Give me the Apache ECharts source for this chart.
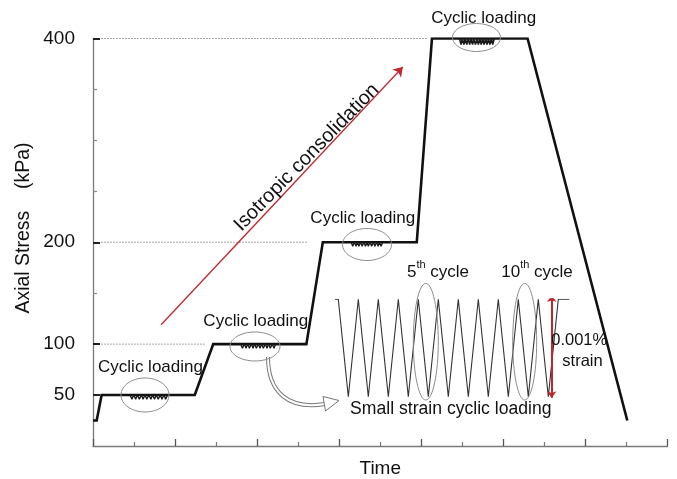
<!DOCTYPE html>
<html>
<head>
<meta charset="utf-8">
<script src="https://cdn.jsdelivr.net/npm/echarts@6/dist/echarts.min.js"></script>
<style>
  html, body { margin: 0; padding: 0; background: #fff; }
  #chart { width: 677px; height: 479px; }
</style>
</head>
<body>
<div id="chart"></div>
<script>
// Stress path: axial stress against time
const stageTime   = [0, 0.09, 0.21, 2.48, 2.93, 5.2, 5.6, 7.89, 8.26, 10.59, 13.02];
const stageStress = [25, 25, 50, 50, 100, 100, 200, 200, 400, 400, 25];

// Labelled and unlabelled stress ticks
const stressLabels = [50, 100, 200, 400];
const stressMinorTicks = [150, 250, 300, 350];

// Small cyclic loading on each plateau
const cyc50Time    = [0.90, 0.95, 0.99, 1.04, 1.08, 1.13, 1.18, 1.22, 1.27, 1.31, 1.36, 1.41, 1.45, 1.50, 1.54, 1.59, 1.64, 1.68, 1.73, 1.77, 1.82];
const cyc50Stress  = [50, 46, 50, 46, 50, 46, 50, 46, 50, 46, 50, 46, 50, 46, 50, 46, 50, 46, 50, 46, 50];
const cyc100Time   = [3.60, 3.64, 3.69, 3.73, 3.77, 3.81, 3.86, 3.90, 3.94, 3.98, 4.03, 4.07, 4.11, 4.15, 4.20, 4.24, 4.28, 4.32, 4.37, 4.41, 4.45];
const cyc100Stress = [100, 96, 100, 96, 100, 96, 100, 96, 100, 96, 100, 96, 100, 96, 100, 96, 100, 96, 100, 96, 100];
const cyc200Time   = [6.29, 6.33, 6.37, 6.41, 6.44, 6.48, 6.52, 6.56, 6.60, 6.64, 6.68, 6.71, 6.75, 6.79, 6.83, 6.87, 6.91, 6.95, 6.98, 7.02, 7.06];
const cyc200Stress = [200, 196, 200, 196, 200, 196, 200, 196, 200, 196, 200, 196, 200, 196, 200, 196, 200, 196, 200, 196, 200];
const cyc400Time   = [8.93, 8.97, 9.00, 9.04, 9.07, 9.11, 9.14, 9.18, 9.21, 9.25, 9.28, 9.32, 9.36, 9.39, 9.43, 9.46, 9.50, 9.53, 9.57, 9.60, 9.64, 9.67, 9.71, 9.74, 9.78];
const cyc400Stress = [400, 394, 400, 394, 400, 394, 400, 394, 400, 394, 400, 394, 400, 394, 400, 394, 400, 394, 400, 394, 400, 394, 400, 394, 400];

// Reference levels (dotted) and where they stop
const refLevels = [100, 200, 400];
const refStart  = 0.2;
const refEnd    = [2.72, 5.23, 8.15];

// Isotropic consolidation arrow
const consolidationTime   = [1.66, 7.55];
const consolidationStress = [119, 372];

// Inset: small strain cyclic loading, ten cycles
const cycleTime   = [-0.17, 0, 0.5, 1, 1.5, 2, 2.5, 3, 3.5, 4, 4.5, 5, 5.5, 6, 6.5, 7, 7.5, 8, 8.5, 9, 9.5, 10, 10.5, 11, 11.55];
const strainLevel = [1, 1, -1, 1, -1, 1, -1, 1, -1, 1, -1, 1, -1, 1, -1, 1, -1, 1, -1, 1, -1, 1, -1, 1, 1];
const strainArrowCycle = 10.67;
const strainArrowRange = [-1.03, 1.09];

const FONT = "'Liberation Sans', Arial, Helvetica, sans-serif";
const zip = (a, b) => a.map((v, i) => [v, b[i]]);

const chart = echarts.init(document.getElementById('chart'), null, { renderer: 'canvas' });

const wiggle = (t, s, w) => ({
  type: 'line', xAxisIndex: 0, yAxisIndex: 0, data: zip(t, s),
  symbol: 'none', silent: true, z: 4,
  lineStyle: { color: '#1a1a1a', width: w }
});

const refSeries = refLevels.map((lv, i) => ({
  type: 'line', xAxisIndex: 0, yAxisIndex: 0,
  data: [[refStart, lv], [refEnd[i], lv]],
  symbol: 'none', silent: true, z: 1,
  lineStyle: { color: '#8a8a8a', width: 1, type: [1.5, 1.5] }
}));

const option = {
  animation: false,
  backgroundColor: '#fff',
  grid: [
    { left: 93, top: 38.5, right: 9.5, bottom: 33, containLabel: false, outerBoundsMode: 'none' },
    { left: 334.3, top: 299.3, width: 236, height: 97.4, containLabel: false, outerBoundsMode: 'none' }
  ],
  xAxis: [
    {
      gridIndex: 0, type: 'value', min: 0, max: 14, interval: 2,
      name: 'Time', nameLocation: 'middle', nameGap: 13,
      nameTextStyle: { fontFamily: FONT, fontSize: 19, color: '#111' },
      axisLine: { show: true, lineStyle: { color: '#7a7a7a', width: 1.3 } },
      axisTick: { show: true, inside: true, length: 7, lineStyle: { color: '#555', width: 1.3 } },
      minorTick: { show: true, splitNumber: 2, length: 4, lineStyle: { color: '#777', width: 1.2 } },
      axisLabel: { show: false },
      splitLine: { show: false }, minorSplitLine: { show: false }
    },
    {
      gridIndex: 1, type: 'value', min: -0.2, max: 11.6, show: false
    }
  ],
  yAxis: [
    {
      gridIndex: 0, type: 'value', min: 0, max: 400, interval: 50,
      axisLine: { show: true, lineStyle: { color: '#7a7a7a', width: 1.3 } },
      axisTick: { show: true, inside: true, length: 7, customValues: stressLabels, lineStyle: { color: '#222', width: 2 } },
      axisLabel: { show: true, customValues: stressLabels, margin: 18, fontFamily: FONT, fontSize: 19, color: '#111' },
      splitLine: { show: false }
    },
    {
      gridIndex: 0, type: 'value', min: 0, max: 400, interval: 50, position: 'left',
      axisLine: { show: false },
      axisTick: { show: true, inside: true, length: 4, customValues: stressMinorTicks, lineStyle: { color: '#888', width: 1.2 } },
      axisLabel: { show: false },
      splitLine: { show: false }
    },
    {
      gridIndex: 1, type: 'value', min: -1, max: 1, show: false
    }
  ],
  series: [
    ...refSeries,
    {
      type: 'line', xAxisIndex: 0, yAxisIndex: 0,
      data: zip(stageTime, stageStress),
      symbol: 'none', silent: true, z: 3,
      lineStyle: { color: '#111', width: 2.6, join: 'miter' }
    },
    wiggle(cyc50Time, cyc50Stress, 1.3),
    wiggle(cyc100Time, cyc100Stress, 1.3),
    wiggle(cyc200Time, cyc200Stress, 1.3),
    wiggle(cyc400Time, cyc400Stress, 1.6),
    {
      type: 'lines', coordinateSystem: 'cartesian2d', xAxisIndex: 0, yAxisIndex: 0,
      data: [{ coords: zip(consolidationTime, consolidationStress) }],
      symbol: ['none', 'arrow'], symbolSize: 9, silent: true, z: 2,
      lineStyle: { color: '#c0272d', width: 1.3, opacity: 1 }
    },
    {
      type: 'line', xAxisIndex: 1, yAxisIndex: 2,
      data: zip(cycleTime, strainLevel),
      symbol: 'none', silent: true, z: 3,
      lineStyle: { color: '#333', width: 1.1 }
    },
    {
      type: 'lines', coordinateSystem: 'cartesian2d', xAxisIndex: 1, yAxisIndex: 2,
      data: [{ coords: [[strainArrowCycle, strainArrowRange[0]], [strainArrowCycle, strainArrowRange[1]]] }],
      symbol: ['arrow', 'arrow'], symbolSize: 7, silent: true, z: 4,
      lineStyle: { color: '#c0272d', width: 2, opacity: 1 }
    }
  ]
};

chart.setOption(option);

// Annotations: labels, ellipses and the curved pointer
const txt = (x, y, text, size, extra) => Object.assign({
  type: 'text', x: x, y: y, silent: true, z: 10,
  style: {
    text: text, fill: '#111', font: size + 'px ' + FONT,
    fontSize: size, fontFamily: FONT,
    align: 'center', verticalAlign: 'middle',
    textAlign: 'center', textVerticalAlign: 'middle'
  }
}, extra || {});

const ell = (cx, cy, rx, ry) => ({
  type: 'ellipse', silent: true, z: 6,
  shape: { cx: cx, cy: cy, rx: rx, ry: ry },
  style: { fill: 'none', stroke: '#8c8c8c', lineWidth: 1 }
});

const supRich = {
  n: { fontSize: 17, fontFamily: FONT, fill: '#111', lineHeight: 22, verticalAlign: 'bottom' },
  s: { fontSize: 11, fontFamily: FONT, fill: '#111', lineHeight: 22, verticalAlign: 'top', padding: [0, 0, 0, 0] }
};

const supText = (x, y, base) => ({
  type: 'text', x: x, y: y, silent: true, z: 10,
  style: {
    text: '{n|' + base + '}{s|th}{n| cycle}',
    rich: supRich,
    align: 'center', verticalAlign: 'middle',
    textAlign: 'center', textVerticalAlign: 'middle'
  }
});

const pointerPath = { x1: 268, y1: 357, cpx1: 268, cpy1: 392, cpx2: 288, cpy2: 410, x2: 325, y2: 404 };

chart.setOption({
  graphic: { elements: [
    txt(24, 228, 'Axial Stress    (kPa)', 19.5, { rotation: Math.PI / 2 }),
    txt(150.5, 367, 'Cyclic loading', 17),
    txt(255.8, 321.7, 'Cyclic loading', 17),
    txt(362.8, 218.3, 'Cyclic loading', 17),
    txt(483.7, 18.3, 'Cyclic loading', 17),
    txt(306.7, 157.5, 'Isotropic consolidation', 20, { rotation: Math.PI / 4 + 0.01 }),
    ell(145, 395, 24, 17),
    ell(255, 346.5, 25, 14.5),
    ell(367, 244.5, 24.5, 16),
    ell(476.5, 37.5, 24, 14),
    ell(425.8, 341.7, 12.5, 58.3),
    ell(524.7, 341.7, 12, 58.3),
    supText(438, 270, '5'),
    supText(537, 270, '10'),
    txt(579.2, 340, '0.001%', 16.5),
    txt(582.5, 361.7, 'strain', 16.5),
    txt(450.8, 409.3, 'Small strain cyclic loading', 17.6),
    {
      type: 'bezierCurve', silent: true, z: 5, shape: pointerPath,
      style: { stroke: '#777', lineWidth: 4, fill: 'none' }
    },
    {
      type: 'bezierCurve', silent: true, z: 5, shape: pointerPath,
      style: { stroke: '#fff', lineWidth: 2, fill: 'none' }
    },
    {
      type: 'polygon', silent: true, z: 5,
      shape: { points: [[323, 396.5], [339, 400.5], [325.5, 411]] },
      style: { fill: '#fff', stroke: '#777', lineWidth: 1 }
    }
  ] }
});
</script>
</body>
</html>
